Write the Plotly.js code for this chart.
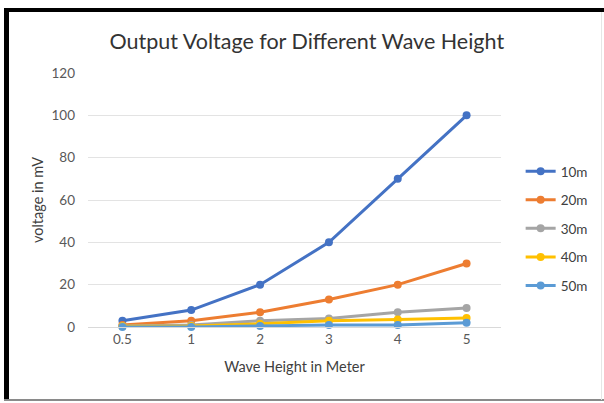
<!DOCTYPE html>
<html>
<head>
<meta charset="utf-8">
<script src="https://cdn.plot.ly/plotly-3.0.1.min.js"></script>
<style>
html,body{margin:0;padding:0;background:#fff;width:604px;height:403px;overflow:hidden;}
#chart{position:absolute;left:0;top:0;width:604px;height:403px;}
.b{position:absolute;}
</style>
</head>
<body>
<div id="chart"></div>
<div class="b" style="left:4px;top:8px;width:600px;height:4px;background:#000;"></div>
<div class="b" style="left:4px;top:8px;width:5px;height:392px;background:#000;"></div>
<div class="b" style="left:4px;top:399px;width:600px;height:2px;background:#8a8a8a;"></div>
<div class="b" style="left:601px;top:12px;width:1px;height:388px;background:#e6e6e6;"></div>
<script>
const waveHeights = ['0.5', '1', '2', '3', '4', '5'];
const seriesNames = ['10m', '20m', '30m', '40m', '50m'];
const v10m = [3, 8, 20, 40, 70, 100];
const v20m = [1, 3, 7, 13, 20, 30];
const v30m = [0.5, 1, 3, 4, 7, 9];
const v40m = [0.3, 0.5, 1.5, 3, 3.5, 4.3];
const v50m = [0, 0, 0.5, 1, 1, 2];
const colors = ['#4472C4', '#ED7D31', '#A5A5A5', '#FFC000', '#5B9BD5'];
const allValues = [v10m, v20m, v30m, v40m, v50m];

const traces = allValues.map((vals, i) => ({
  x: waveHeights,
  y: vals,
  name: seriesNames[i],
  legendgroup: 'g' + i,
  type: 'scatter',
  mode: 'lines+markers',
  line: {color: colors[i], width: 3},
  marker: {color: colors[i], size: 8},
  cliponaxis: false
}));

const font = "Lato, 'Open Sans', 'Liberation Sans', sans-serif";
const layout = {
  width: 604, height: 403,
  margin: {l: 88, r: 103, t: 73, b: 76, autoexpand: false},
  paper_bgcolor: '#fff', plot_bgcolor: '#fff',
  font: {family: font, color: '#595959', size: 13},
  title: {text: 'Output Voltage for Different Wave Height', x: 0.508, xref: 'container', y: 0.897, yref: 'container', yanchor: 'middle',
          font: {family: font, size: 21.5, color: '#333333'}},
  xaxis: {
    type: 'category', range: [-0.5, 5.5],
    showgrid: false, showline: true, linecolor: '#d9d9d9', linewidth: 1,
    ticks: '', tickfont: {size: 13.5, color: '#595959'},
    title: {text: 'Wave Height in Meter', font: {size: 14.5, color: '#404040'}, standoff: 15},
    zeroline: false, fixedrange: true
  },
  yaxis: {
    range: [0, 120], dtick: 20, tick0: 0,
    showgrid: true, gridcolor: '#e3e3e3', gridwidth: 1,
    showline: false, zeroline: false, ticks: '',
    tickfont: {size: 13.5, color: '#595959'}, ticklabelstandoff: 12,
    title: {text: 'voltage in mV', font: {size: 14.5, color: '#404040'}, standoff: 4},
    fixedrange: true
  },
  legend: {
    xref: 'container', yref: 'container',
    x: 0.862, xanchor: 'left', y: 0.613, yanchor: 'top',
    font: {size: 13.5, color: '#404040'},
    tracegroupgap: 8, itemwidth: 30,
    bgcolor: 'rgba(0,0,0,0)'
  },
  showlegend: true
};
Plotly.newPlot('chart', traces, layout, {displayModeBar: false, staticPlot: true});
</script>
</body>
</html>
